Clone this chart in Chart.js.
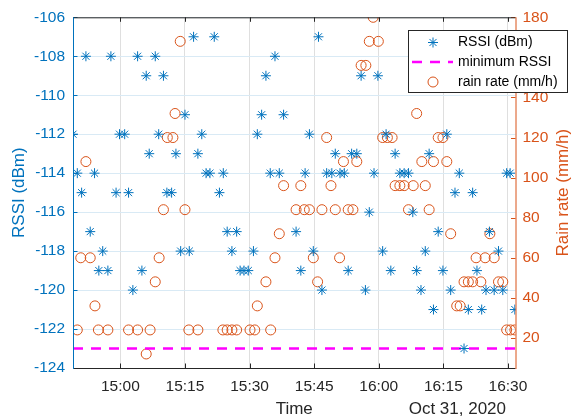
<!DOCTYPE html>
<html>
<head>
<meta charset="utf-8">
<script src="https://cdn.jsdelivr.net/npm/chart.js@4.4.1/dist/chart.umd.min.js"></script>
<style>
  html, body { margin: 0; padding: 0; background: #fff; }
  canvas { display: block; }
</style>
</head>
<body>
<canvas id="chart" width="576" height="418"></canvas>
<script>
// time is in minutes after 15:00 on Oct 31, 2020
const rssiTime = [-11.0, -10.0, -9.0, -8.0, -7.0, -6.0, -5.0, -4.1, -2.9, -2.2,
    -1.0, -0.2, 1.0, 1.9, 2.9, 4.0, 5.0, 6.0, 6.7, 8.1,
    8.9, 10.0, 10.8, 11.9, 12.9, 14.0, 15.0, 16.0, 17.0, 18.0,
    18.9, 19.9, 20.8, 21.8, 23.0, 23.9, 24.8, 25.9, 27.0, 27.8,
    28.7, 29.7, 30.9, 31.8, 32.8, 33.8, 34.8, 35.9, 36.9, 37.9,
    40.8, 41.9, 42.9, 43.9, 44.8, 46.0, 46.8, 47.9, 49.1, 49.9,
    51.0, 52.0, 52.9, 53.7, 54.9, 55.9, 56.9, 57.8, 58.9, 59.8,
    60.9, 61.7, 62.8, 63.8, 64.9, 65.9, 66.9, 67.9, 68.8, 69.8,
    70.8, 71.7, 72.7, 73.8, 74.9, 75.8, 76.7, 77.7, 78.7, 79.8,
    80.8, 81.8, 82.8, 83.9, 84.9, 85.7, 86.8, 87.8, 88.8, 89.7,
    90.5, 91.6];
const rssiValue = [-112, -114, -115, -108, -117, -114, -119, -118, -119, -108,
    -115, -112, -112, -115, -120, -108, -119, -109, -113, -108,
    -112, -109, -115, -115, -113, -118, -111, -118, -107, -113,
    -112, -114, -114, -107, -115, -114, -117, -118, -117, -119,
    -119, -119, -118, -112, -111, -109, -114, -108, -114, -111,
    -117, -119, -114, -112, -118, -107, -120, -114, -114, -113,
    -114, -114, -119, -113, -113, -109, -120, -116, -114, -109,
    -118, -112, -119, -113, -114, -114, -114, -116, -119, -120,
    -118, -113, -121, -117, -119, -112, -120, -115, -114, -123,
    -121, -115, -119, -121, -120, -117, -120, -118, -120, -114,
    -114, -121];

const rainTime = [-10.0, -9.2, -8.0, -7.0, -5.9, -5.1, -2.9, 1.9, 4.0, 6.0,
    6.9, 8.1, 9.0, 10.0, 10.9, 12.2, 12.7, 13.9, 15.0, 15.9,
    18.0, 23.8, 24.8, 25.9, 27.0, 30.1, 31.2, 31.8, 33.8, 34.9,
    35.9, 36.9, 37.9, 40.8, 41.9, 42.7, 43.9, 44.8, 45.8, 46.8,
    47.9, 48.9, 49.9, 50.9, 51.8, 52.9, 54.0, 54.9, 55.9, 57.0,
    57.8, 58.7, 59.9, 60.9, 62.0, 63.1, 63.8, 64.9, 65.9, 66.9,
    68.0, 68.8, 70.0, 70.8, 71.7, 72.7, 73.8, 74.9, 75.8, 76.7,
    78.1, 78.9, 79.8, 80.8, 81.8, 82.6, 83.7, 84.7, 85.8, 86.8,
    87.8, 88.8, 89.7, 90.6, 91.6];
const rainValue = [24, 60, 108, 60, 36, 24, 24, 24, 24, 12,
    24, 48, 60, 84, 120, 120, 132, 168, 84, 24,
    24, 24, 24, 24, 24, 24, 24, 36, 48, 24,
    60, 72, 96, 84, 96, 84, 84, 60, 48, 84,
    120, 96, 84, 60, 108, 84, 84, 108, 156, 156,
    168, 180, 168, 120, 120, 120, 96, 96, 96, 84,
    96, 132, 108, 96, 84, 108, 120, 120, 108, 72,
    36, 36, 48, 48, 48, 60, 48, 60, 72, 60,
    48, 48, 24, 24, 24];

const minRssi = -123;
const timeRange = [-11.0, 91.75];
const xTickMinutes = [0, 15, 30, 45, 60, 75, 90];
const xTickLabels = ['15:00', '15:15', '15:30', '15:45', '16:00', '16:15', '16:30'];
const rainTicks = [20, 40, 60, 80, 100, 120, 140, 160, 180];

const blue = '#0072BD';
const orange = '#D95319';
const dark = '#262626';
const font = "'Liberation Sans', Arial, Helvetica, sans-serif";

const rssiPoints = rssiTime.map((t, i) => ({ x: t, y: rssiValue[i] }));
const rainPoints = rainTime.map((t, i) => ({ x: t, y: rainValue[i] }));

const framePlugin = {
    id: 'frame',
    afterDatasetsDraw(chart) {
        const { ctx, chartArea: a, scales } = chart;
        ctx.save();
        ctx.lineWidth = 1;
        const tl = 4.5;

        // inward ticks
        ctx.strokeStyle = dark;
        ctx.beginPath();
        xTickMinutes.forEach(v => {
            const x = Math.round(scales.x.getPixelForValue(v)) + 0.5;
            ctx.moveTo(x, a.bottom); ctx.lineTo(x, a.bottom - tl);
            ctx.moveTo(x, a.top); ctx.lineTo(x, a.top + tl);
        });
        ctx.stroke();
        ctx.strokeStyle = blue;
        ctx.beginPath();
        for (let v = -124; v <= -106; v += 2) {
            const y = Math.round(scales.y.getPixelForValue(v)) + 0.5;
            ctx.moveTo(a.left, y); ctx.lineTo(a.left + tl, y);
        }
        ctx.stroke();
        ctx.strokeStyle = orange;
        ctx.beginPath();
        rainTicks.forEach(v => {
            const y = Math.round(scales.y2.getPixelForValue(v)) + 0.5;
            ctx.moveTo(a.right, y); ctx.lineTo(a.right - tl, y);
        });
        ctx.stroke();

        // box
        ctx.strokeStyle = dark;
        ctx.beginPath();
        ctx.moveTo(a.left, a.top + 0.5); ctx.lineTo(a.right, a.top + 0.5);
        ctx.moveTo(a.left, a.bottom + 0.5); ctx.lineTo(a.right, a.bottom + 0.5);
        ctx.stroke();
        ctx.strokeStyle = blue;
        ctx.beginPath();
        ctx.moveTo(a.left + 0.5, a.top); ctx.lineTo(a.left + 0.5, a.bottom + 1);
        ctx.stroke();
        ctx.strokeStyle = orange;
        ctx.beginPath();
        ctx.moveTo(a.right + 0.5, a.top); ctx.lineTo(a.right + 0.5, a.bottom + 1);
        ctx.stroke();

        // axis titles
        ctx.font = '17px ' + font;
        ctx.textAlign = 'center';
        ctx.textBaseline = 'middle';
        const midY = (a.top + a.bottom) / 2;
        ctx.fillStyle = blue;
        ctx.save();
        ctx.translate(19, midY);
        ctx.rotate(-Math.PI / 2);
        ctx.fillText('RSSI (dBm)', 0, 0);
        ctx.restore();
        ctx.fillStyle = orange;
        ctx.save();
        ctx.translate(563, midY);
        ctx.rotate(-Math.PI / 2);
        ctx.fillText('Rain rate (mm/h)', 0, 0);
        ctx.restore();
        ctx.fillStyle = dark;
        ctx.fillText('Time', (a.left + a.right) / 2, 409);
        ctx.textAlign = 'right';
        ctx.fillText('Oct 31, 2020', 506, 409);

        // legend
        const lx = 408.5, ly = 30.5, lw = 159, lh = 62;
        ctx.fillStyle = '#fff';
        ctx.fillRect(lx, ly, lw, lh);
        ctx.strokeStyle = dark;
        ctx.strokeRect(lx, ly, lw, lh);
        const rows = [42.5, 62, 82];
        ctx.strokeStyle = blue;
        Chart.helpers.drawPoint(ctx, { pointStyle: 'star', radius: 5, borderWidth: 1 }, 433, rows[0]);
        ctx.strokeStyle = '#FF00FF';
        ctx.lineWidth = 2.5;
        ctx.setLineDash([10, 8]);
        ctx.beginPath();
        ctx.moveTo(412, rows[1]); ctx.lineTo(453, rows[1]);
        ctx.stroke();
        ctx.setLineDash([]);
        ctx.lineWidth = 1;
        ctx.strokeStyle = orange;
        Chart.helpers.drawPoint(ctx, { pointStyle: 'circle', radius: 5, borderWidth: 1 }, 433, rows[2]);
        ctx.fillStyle = '#000';
        ctx.font = '14px ' + font;
        ctx.textAlign = 'left';
        ctx.textBaseline = 'middle';
        ctx.fillText('RSSI (dBm)', 458, rows[0]);
        ctx.fillText('minimum RSSI', 458, rows[1]);
        ctx.fillText('rain rate (mm/h)', 458, rows[2]);
        ctx.restore();
    }
};

const config = {
    type: 'scatter',
    data: {
        datasets: [{
            label: 'RSSI (dBm)',
            data: rssiPoints,
            yAxisID: 'y',
            pointStyle: 'star',
            pointRadius: 5,
            pointBorderWidth: 1,
            borderColor: blue,
            backgroundColor: blue,
            order: 1
        }, {
            label: 'minimum RSSI',
            data: [{ x: timeRange[0], y: minRssi }, { x: timeRange[1], y: minRssi }],
            yAxisID: 'y',
            showLine: true,
            pointRadius: 0,
            borderColor: '#FF00FF',
            borderWidth: 2.5,
            borderDash: [10, 8],
            order: 2
        }, {
            label: 'rain rate (mm/h)',
            data: rainPoints,
            yAxisID: 'y2',
            pointStyle: 'circle',
            pointRadius: 5,
            pointBorderWidth: 1,
            borderColor: orange,
            backgroundColor: 'rgba(0,0,0,0)',
            order: 3
        }]
    },
    options: {
        responsive: false,
        animation: false,
        devicePixelRatio: 1,
        layout: { padding: { top: 17, left: 0, right: 0, bottom: 0 } },
        plugins: {
            legend: { display: false },
            tooltip: { enabled: false }
        },
        scales: {
            x: {
                type: 'linear',
                min: timeRange[0],
                max: timeRange[1],
                afterBuildTicks: s => { s.ticks = xTickMinutes.map(v => ({ value: v })); },
                afterFit: s => { s.height = 50; },
                border: { display: false },
                grid: { color: 'rgb(223,223,223)', drawTicks: false },
                ticks: {
                    color: dark,
                    font: { family: font, size: 15.5 },
                    padding: 9,
                    maxRotation: 0,
                    callback: v => xTickLabels[xTickMinutes.indexOf(v)]
                }
            },
            y: {
                position: 'left',
                min: -124,
                max: -106,
                afterFit: s => { s.width = 73; },
                border: { display: false },
                grid: { color: 'rgb(217,234,245)', drawTicks: false },
                ticks: {
                    stepSize: 2,
                    color: blue,
                    font: { family: font, size: 15.5 },
                    padding: 8
                }
            },
            y2: {
                position: 'right',
                min: 5,
                max: 180,
                afterBuildTicks: s => { s.ticks = rainTicks.map(v => ({ value: v })); },
                afterFit: s => { s.width = 60.5; },
                border: { display: false },
                grid: { display: false, drawTicks: false },
                ticks: {
                    color: orange,
                    font: { family: font, size: 15.5 },
                    padding: 7
                }
            }
        }
    },
    plugins: [framePlugin]
};

const ctx = document.getElementById('chart').getContext('2d');
new Chart(ctx, config);
</script>
</body>
</html>
